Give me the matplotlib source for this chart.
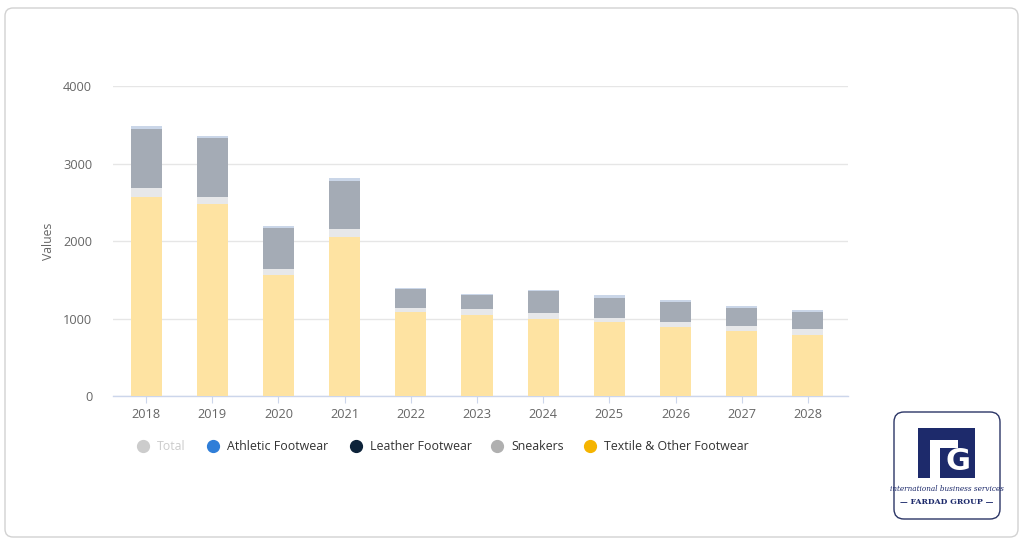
import matplotlib
matplotlib.use("Agg")
import matplotlib.pyplot as plt
from matplotlib.patches import FancyBboxPatch, Rectangle

years = ["2018", "2019", "2020", "2021", "2022", "2023", "2024", "2025", "2026", "2027", "2028"]
textile = [2565, 2477, 1561, 2052, 1088, 1045, 990, 951, 894, 843, 787]
leather = [124, 86, 77, 103, 52, 74, 77, 60, 57, 60, 77]
sneakers = [757, 761, 530, 619, 237, 185, 288, 258, 258, 236, 215]
athletic = [39, 30, 26, 43, 15, 13, 12, 35, 25, 25, 25]
yticks = [0, 1000, 2000, 3000, 4000]
legend_labels = ["Total", "Athletic Footwear", "Leather Footwear", "Sneakers", "Textile & Other Footwear"]

plt.rcParams['font.family'] = ['Open Sans', 'DejaVu Sans']

W, H = 1024, 544
fig = plt.figure(figsize=(W / 100, H / 100), dpi=100)
fig.patch.set_facecolor("white")

# overlay in pixel coordinates
ov = fig.add_axes([0, 0, 1, 1], zorder=0)
ov.set_xlim(0, W)
ov.set_ylim(H, 0)
ov.axis("off")
ov.add_patch(FancyBboxPatch((5, 8), 1013, 529, boxstyle="round,pad=0,rounding_size=8",
                            fc="white", ec="#d2d2d2", lw=1.0))

left, right, top, bottom = 113, 848, 86, 396
ax = fig.add_axes([left / W, (H - bottom) / H, (right - left) / W, (bottom - top) / H], zorder=1)
ax.set_facecolor("none")
x = list(range(len(years)))
bw = 0.47
b1 = textile
b2 = [a + b for a, b in zip(b1, leather)]
b3 = [a + b for a, b in zip(b2, sneakers)]
ax.bar(x, textile, width=bw, color="#FEE3A2", zorder=3)
ax.bar(x, leather, bottom=b1, width=bw, color="#E7E8EA", zorder=3)
ax.bar(x, sneakers, bottom=b2, width=bw, color="#A4ABB5", zorder=3)
ax.bar(x, athletic, bottom=b3, width=bw, color="#CAD6E8", zorder=3)

ax.set_xlim(-0.5, len(years) - 0.5 + 0.106)
ax.set_ylim(0, 4000)
ax.set_yticks(yticks)
ax.set_yticklabels([str(v) for v in yticks])
ax.set_xticks(x)
ax.set_xticklabels(years)
ax.yaxis.grid(True, color="#e6e6e6", lw=1, zorder=0)
ax.set_axisbelow(True)
for s in ["top", "right", "left"]:
    ax.spines[s].set_visible(False)
ax.spines["bottom"].set_color("#ccd6eb")
ax.spines["bottom"].set_linewidth(1)
ax.tick_params(axis="y", length=0, pad=15, labelsize=9.2, labelcolor="#666666")
ax.tick_params(axis="x", length=5, color="#ccd6eb", pad=4, labelsize=9.2, labelcolor="#666666")
ax.set_ylabel("Values", fontsize=8.8, color="#666666")
ax.yaxis.set_label_coords((55 - left) / (right - left), 0.5)

# legend
leg_y = 446
items = [(143, "#cccccc", "#cccccc"), (213, "#2f7ed8", "#333333"), (356, "#0d233a", "#333333"),
         (497, "#b0b0b0", "#333333"), (590, "#f5b400", "#333333")]
for (mx, mc, tc), lab in zip(items, legend_labels):
    ov.plot([mx], [leg_y], marker="o", ms=8.5, color=mc, mec=mc, ls="none")
    ov.text(mx + 14, leg_y, lab, fontsize=8.9, color=tc, va="center", ha="left")

# logo
ov.add_patch(FancyBboxPatch((894, 412), 106, 107, boxstyle="round,pad=0,rounding_size=10",
                            fc="white", ec="#2b3566", lw=1.0))
navy = "#1d2a6b"
ov.add_patch(Rectangle((918, 428), 57, 50, fc=navy, ec="none"))
ov.add_patch(Rectangle((930, 440), 10, 38, fc="white", ec="none"))
ov.add_patch(Rectangle((940, 440), 18, 8, fc="white", ec="none"))
ov.text(958, 462, "G", fontsize=22, fontweight="bold", color="white", ha="center", va="center",
        family="DejaVu Sans")
ov.text(947, 489, "international business services", fontsize=5.2, style="italic",
        color=navy, ha="center", va="center", family="DejaVu Serif")
ov.text(947, 502, "— FARDAD GROUP —", fontsize=5.6, fontweight="bold",
        color=navy, ha="center", va="center", family="DejaVu Serif")

fig.savefig("out.png", dpi=100, facecolor="white")
